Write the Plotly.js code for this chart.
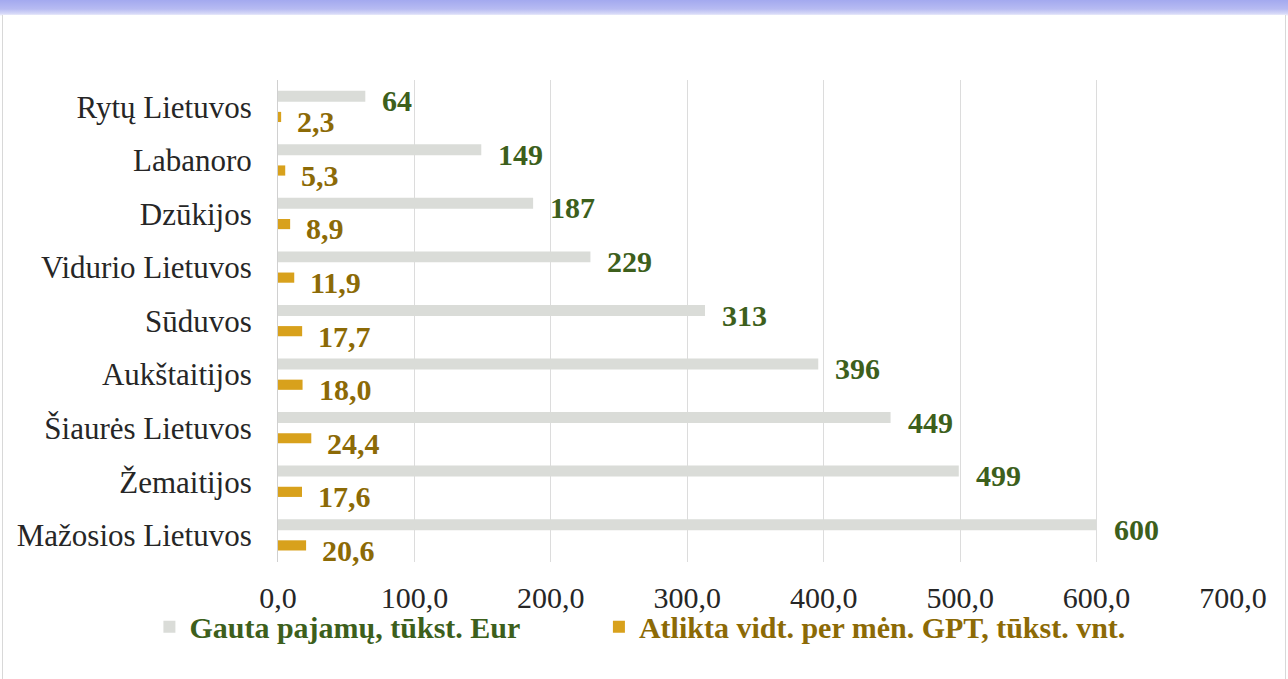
<!DOCTYPE html>
<html>
<head>
<meta charset="utf-8">
<script src="https://cdn.plot.ly/plotly-3.0.1.min.js"></script>
<style>
  html, body { margin: 0; padding: 0; }
  body {
    width: 1288px; height: 679px; overflow: hidden;
    background: linear-gradient(to bottom, #a3a9ef 0px, #b7bbf2 9px, #d9dbf8 14px, #ffffff 16px);
  }
  #frame {
    position: absolute; left: 2px; top: 15px; width: 1282px; height: 664px;
    border-left: 1px solid #d8d8d8; border-right: 1px solid #d8d8d8; background: #ffffff;
  }
  #chart { position: absolute; left: 0; top: 0; width: 1288px; height: 679px; }
</style>
</head>
<body>
<div id="frame"></div>
<div id="chart"></div>
<script>
const categories = ["Rytų Lietuvos", "Labanoro", "Dzūkijos", "Vidurio Lietuvos", "Sūduvos",
  "Aukštaitijos", "Šiaurės Lietuvos", "Žemaitijos", "Mažosios Lietuvos"];
const incomeValues = [64, 149, 187, 229, 313, 396, 449, 499, 600];
const servicesValues = [2.3, 5.3, 8.9, 11.9, 17.7, 18.0, 24.4, 17.6, 20.6];
const incomeName = "Gauta pajamų, tūkst. Eur";
const servicesName = "Atlikta vidt. per mėn. GPT, tūkst. vnt.";

const fontFamily = '"Liberation Serif", "Times New Roman", serif';
const greenText = "#3d5f1c";
const goldText = "#8c6a06";
const grayBar = "#dadcd8";
const goldBar = "#d8a11c";

const fmt = (v, d) => v.toFixed(d).replace(".", ",");

const traces = [
  {
    type: "bar", orientation: "h", name: incomeName, legend: "legend",
    y: categories, x: incomeValues,
    width: 0.205, offset: -0.3,
    marker: { color: grayBar }, hoverinfo: "x+y"
  },
  {
    type: "bar", orientation: "h", name: servicesName, legend: "legend2",
    y: categories, x: servicesValues,
    width: 0.19, offset: 0.095,
    marker: { color: goldBar }, hoverinfo: "x+y"
  }
];

const annotations = [];
categories.forEach((c, i) => {
  annotations.push({
    x: incomeValues[i], y: c, xref: "x", yref: "y",
    text: fmt(incomeValues[i], 0), showarrow: false,
    xanchor: "left", yanchor: "middle", xshift: 15, yshift: 6,
    font: { family: fontFamily, size: 30, color: greenText, weight: "bold" }
  });
  annotations.push({
    x: servicesValues[i], y: c, xref: "x", yref: "y",
    text: fmt(servicesValues[i], 1), showarrow: false,
    xanchor: "left", yanchor: "middle", xshift: 14, yshift: -15,
    font: { family: fontFamily, size: 30, color: goldText, weight: "bold" }
  });
});

const legendBase = {
  orientation: "h", xref: "container", yref: "container",
  y: 0.077, yanchor: "middle", xanchor: "left",
  itemwidth: 30,
  bgcolor: "rgba(0,0,0,0)"
};

const layout = {
  width: 1288, height: 679,
  paper_bgcolor: "rgba(0,0,0,0)", plot_bgcolor: "rgba(0,0,0,0)",
  margin: { l: 278, r: 55, t: 80, b: 117 },
  separators: ",.",
  font: { family: fontFamily, size: 30, color: "#262626" },
  barmode: "overlay",
  showlegend: true,
  xaxis: {
    range: [0, 700], dtick: 100, tickformat: ".1f",
    showgrid: true, gridcolor: "#dcdcdc", gridwidth: 1,
    zeroline: false, showline: false, ticks: "",
    ticklabelstandoff: 15,
    tickfont: { family: fontFamily, size: 30, color: "#262626" },
    fixedrange: true
  },
  yaxis: {
    type: "category", categoryorder: "array", categoryarray: categories,
    range: [8.5, -0.5],
    showline: true, linecolor: "#d0d0d0", linewidth: 1,
    showgrid: false, zeroline: false, ticks: "",
    ticklabelstandoff: 19,
    tickfont: { family: fontFamily, size: 31, color: "#262626" },
    fixedrange: true
  },
  legend: Object.assign({}, legendBase, {
    x: 0.116, font: { family: fontFamily, size: 30, weight: "bold", color: greenText }
  }),
  legend2: Object.assign({}, legendBase, {
    x: 0.465, font: { family: fontFamily, size: 30, weight: "bold", color: goldText }
  }),
  annotations: annotations
};

Plotly.newPlot("chart", traces, layout, { displayModeBar: false, staticPlot: true });
</script>
</body>
</html>
